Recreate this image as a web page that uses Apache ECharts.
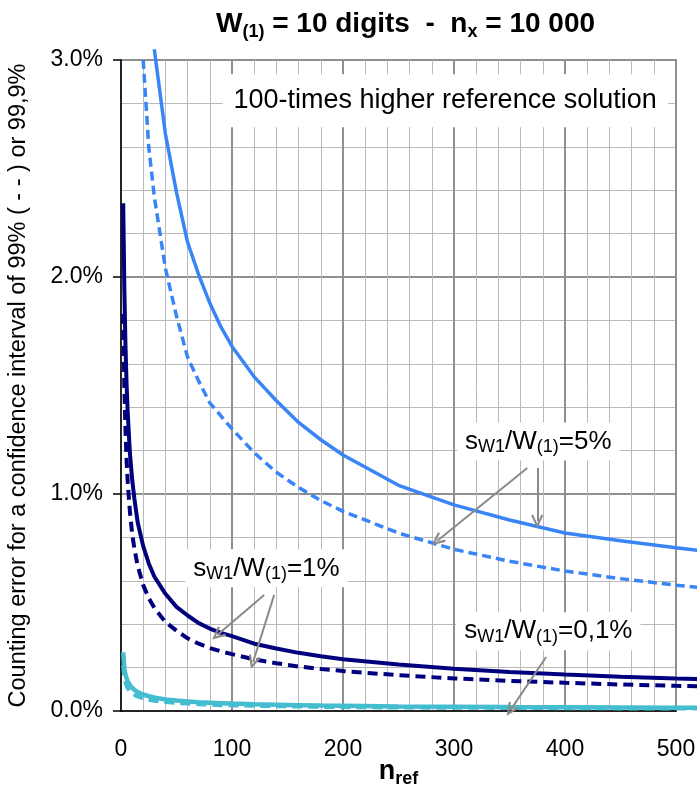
<!DOCTYPE html>
<html><head><meta charset="utf-8">
<script src="https://cdn.jsdelivr.net/npm/echarts@6/dist/echarts.min.js"></script>
<style>html,body{margin:0;padding:0;background:#fff}#c{width:697px;height:789px}</style>
</head><body><div id="c"></div>
<script>
const FONT = '"Liberation Sans", Arial, sans-serif';
// n_ref values (x)
const nRef = [2,3,4,5,6,8,10,12,15,20,25,30,40,50,60,70,80,90,100,120,140,160,180,200,250,300,350,400,450,500,520];
// counting error in %, s_W1/W(1)=5%
const sol5  = [null,null,null,null,null,null,null,null,null,null,null,3.05,2.66,2.39,2.16,2.01,1.88,1.77,1.68,1.54,1.43,1.33,1.25,1.18,1.04,0.95,0.88,0.82,0.785,0.752,0.74];
const dash5 = [null,null,null,null,null,null,null,null,null,3.0,2.6,2.37,2.04,1.82,1.63,1.52,1.42,1.36,1.30,1.19,1.10,1.03,0.97,0.92,0.82,0.745,0.69,0.645,0.61,0.58,0.57];
// s_W1/W(1)=1%
const sol1  = [2.34,1.95,1.69,1.51,1.38,1.19,1.07,0.98,0.87,0.76,0.68,0.62,0.54,0.48,0.44,0.405,0.38,0.36,0.345,0.31,0.288,0.268,0.252,0.238,0.214,0.195,0.18,0.168,0.158,0.15,0.147];
const dash1 = [1.83,1.50,1.30,1.16,1.06,0.92,0.82,0.75,0.67,0.58,0.52,0.475,0.41,0.37,0.335,0.31,0.29,0.275,0.262,0.238,0.22,0.205,0.194,0.184,0.165,0.15,0.139,0.13,0.122,0.116,0.114];
// s_W1/W(1)=0,1%
const sol01  = [0.27,0.195,0.169,0.151,0.138,0.12,0.107,0.098,0.087,0.076,0.068,0.062,0.053,0.048,0.044,0.04,0.038,0.036,0.034,0.031,0.029,0.027,0.025,0.024,0.021,0.02,0.018,0.017,0.016,0.015,0.015];
const dash01 = [0.21,0.15,0.13,0.116,0.106,0.092,0.082,0.075,0.067,0.058,0.052,0.0475,0.041,0.037,0.034,0.031,0.029,0.027,0.026,0.024,0.022,0.021,0.019,0.018,0.016,0.015,0.014,0.013,0.012,0.012,0.011];
const xTicks = [0,100,200,300,400,500];
const yTicks = [0,1,2,3];
const annoTexts = ['{t|s}{s|W1}{t|/W}{s|(1)}{t|=5%}','{t|s}{s|W1}{t|/W}{s|(1)}{t|=1%}','{t|s}{s|W1}{t|/W}{s|(1)}{t|=0,1%}'];
const boxText = '100-times higher reference solution';

function pairs(arr){ return nRef.map((n,i)=>[n,arr[i]]); }

// layout
const W = 697, H = 789;
const G = {left:121, right:21, top:60, bottom:78};
const plotW = W - G.left - G.right, plotH = H - G.top - G.bottom;
const xMax = xTicks[xTicks.length-1], yMax = yTicks[yTicks.length-1];
// drawing area for the curves: same scale, reaching the right edge and a bit above the top
const G2 = {left:G.left, right:0, top:48, bottom:G.bottom};
const x2Max = xMax * (W - G2.left - G2.right) / plotW;
const y2Max = yMax * (H - G2.top - G2.bottom) / plotH;

const BLUE = '#3a85f6', NAVY = '#00007e', CYAN = '#45bdd1';
const chevron = 'path://M5,0L10,9L8.6,10.2L5,3.4L1.4,10.2L0,9Z';
const annoRich = {
  t:{fontSize:26, lineHeight:30, fontFamily:FONT, color:'#000', verticalAlign:'middle'},
  s:{fontSize:18, lineHeight:18, fontFamily:FONT, color:'#000', verticalAlign:'bottom'}
};
function lbl(coord, text){
  return {coord:coord, symbolSize:1, itemStyle:{color:'rgba(0,0,0,0)'},
    label:{show:true, position:'inside', formatter:text, backgroundColor:'#fff', padding:[4,8,4,8], rich:annoRich}};
}
const hiddenAxis = {axisLine:{show:false}, axisTick:{show:false}, axisLabel:{show:false}, splitLine:{show:false}};
const line = (data, color, width, type, z) => ({type:'line', xAxisIndex:1, yAxisIndex:1, data:pairs(data),
  showSymbol:false, clip:true, lineStyle:{color:color, width:width, type:type}, z:z});

const chart = echarts.init(document.getElementById('c'), null, {renderer:'canvas'});
const last = line(sol01, CYAN, 4.5, 'solid', 4);
last.markLine = {silent:true, symbol:['none', chevron], symbolSize:[12,14],
  label:{show:false},
  lineStyle:{color:'#8a8a8a', width:2, type:'solid'},
  data:[
    [{coord:[366,1.12]},{coord:[285,0.785]}],
    [{coord:[375,1.12]},{coord:[375,0.875]}],
    [{coord:[129,0.535]},{coord:[87,0.351]}],
    [{coord:[138,0.535]},{coord:[119,0.226]}],
    [{coord:[383,0.249]},{coord:[351,0.005]}]
  ]};
last.markPoint = {silent:true, data:[
  {coord:[292,2.81], symbolSize:1, itemStyle:{color:'rgba(0,0,0,0)'},
   label:{show:true, position:'inside', formatter:boxText, fontSize:27, fontFamily:FONT, color:'#000',
     backgroundColor:'#fff', padding:[12,10,12,10], lineHeight:29, width:425, align:'center'}},
  lbl([376,1.24], annoTexts[0]),
  lbl([131,0.655], annoTexts[1]),
  lbl([385,0.365], annoTexts[2])
]};

const option = {
  animation:false,
  backgroundColor:'#fff',
  title:{
    text:'{b|W}{s|(1)}{b| = 10 digits  -  n}{s|x}{b| = 10 000}',
    left:211, top:2,
    textStyle:{rich:{
      b:{fontSize:28, fontWeight:'bold', fontFamily:FONT, color:'#000', lineHeight:34, verticalAlign:'middle'},
      s:{fontSize:18, fontWeight:'bold', fontFamily:FONT, color:'#000', lineHeight:18, verticalAlign:'bottom'}
    }}
  },
  grid:[
    {left:G.left, right:G.right, top:G.top, bottom:G.bottom, show:true, borderColor:'#222', borderWidth:1.5,
     backgroundColor:'transparent', containLabel:false, outerBoundsMode:'none'},
    {left:G2.left, right:G2.right, top:G2.top, bottom:G2.bottom, show:false, containLabel:false, outerBoundsMode:'none'}
  ],
  xAxis:[{
    gridIndex:0, type:'value', min:xTicks[0], max:xMax, interval:100,
    axisLine:{show:true, onZero:false, lineStyle:{color:'#000', width:1.5}},
    axisTick:{show:false},
    axisLabel:{fontSize:23, fontFamily:FONT, color:'#000', margin:27},
    splitLine:{show:true, lineStyle:{color:'#8f8f8f', width:2}},
    minorTick:{show:false, splitNumber:5},
    minorSplitLine:{show:true, lineStyle:{color:'#b9b9b9', width:1}},
    name:'{b|n}{s|ref}', nameLocation:'middle', nameGap:45, nameMoveOverlap:false,
    nameTextStyle:{rich:{
      b:{fontSize:27, fontWeight:'bold', fontFamily:FONT, color:'#000', lineHeight:32, verticalAlign:'middle'},
      s:{fontSize:18, fontWeight:'bold', fontFamily:FONT, color:'#000', lineHeight:18, verticalAlign:'bottom'}
    }}
  },
  Object.assign({gridIndex:1, type:'value', min:0, max:x2Max}, hiddenAxis)],
  yAxis:[{
    gridIndex:0, type:'value', min:yTicks[0], max:yMax, interval:1,
    axisLine:{show:true, lineStyle:{color:'#000', width:1.5}},
    axisTick:{show:true, length:8, lineStyle:{color:'#000', width:1.5}},
    axisLabel:{fontSize:23, fontFamily:FONT, color:'#000', margin:18, formatter:v=>v.toFixed(1)+'%'},
    splitLine:{show:true, lineStyle:{color:'#8f8f8f', width:2}},
    minorTick:{show:false, splitNumber:5},
    minorSplitLine:{show:true, lineStyle:{color:'#b9b9b9', width:1}},
    name:'Counting error for a confidence interval of 99% ( - - ) or 99,9%',
    nameLocation:'middle', nameGap:90, nameMoveOverlap:false,
    nameTextStyle:{fontSize:23.5, fontFamily:FONT, color:'#000'}
  },
  Object.assign({gridIndex:1, type:'value', min:0, max:y2Max}, hiddenAxis)],
  series:[
    line(dash5, BLUE, 3.5, [9,5], 3),
    line(sol5, BLUE, 3.5, 'solid', 3),
    line(dash1, NAVY, 4, [10,6], 3),
    line(sol1, NAVY, 4, 'solid', 3),
    line(dash01, CYAN, 4, [10,6], 3),
    last
  ]
};
chart.setOption(option);
</script>
</body></html>
